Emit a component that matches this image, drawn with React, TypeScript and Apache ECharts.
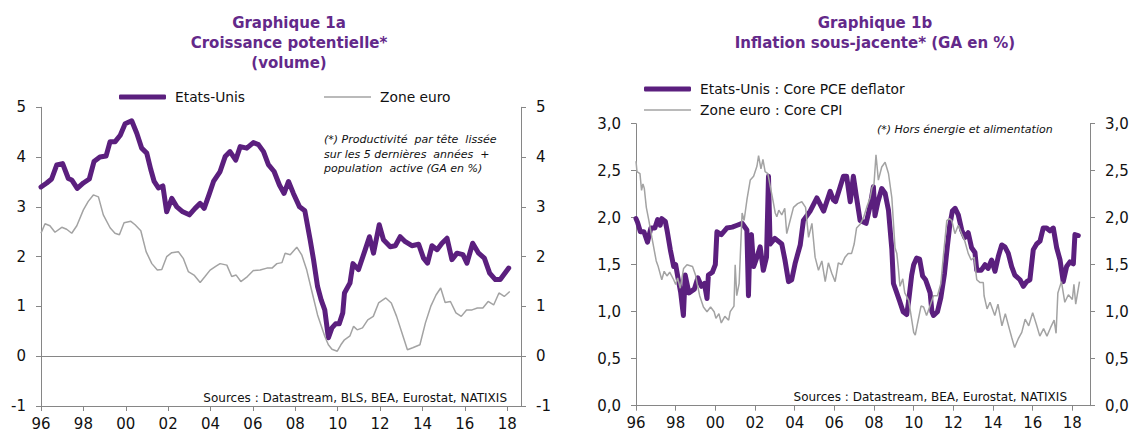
import React, { useEffect, useRef } from 'react';
import * as echarts from 'echarts';

// ---- axis ticks ----
const tickYears = [1996, 1998, 2000, 2002, 2004, 2006, 2008, 2010, 2012, 2014, 2016, 2018];
const tickLabels = ['96', '98', '00', '02', '04', '06', '08', '10', '12', '14', '16', '18'];

// ---- Graphique 1a : potential growth ----
const usPotYears = [
  1996.0, 1996.27, 1996.5, 1996.74, 1997.02, 1997.29, 1997.45, 1997.71, 1998.0, 1998.28, 1998.5, 1998.78,
  1999.07, 1999.26, 1999.5, 1999.74, 1999.97, 2000.28, 2000.52, 2000.75, 2000.99, 2001.18, 2001.34, 2001.54,
  2001.75, 2001.93, 2002.17, 2002.41, 2002.69, 2003.0, 2003.27, 2003.51, 2003.7, 2003.95, 2004.14, 2004.45,
  2004.69, 2004.92, 2005.19, 2005.4, 2005.71, 2006.02, 2006.26, 2006.5, 2006.73, 2007.0, 2007.25, 2007.47,
  2007.68, 2007.91, 2008.2, 2008.45, 2008.7, 2008.86, 2009.05, 2009.22, 2009.39, 2009.56, 2009.73, 2009.9,
  2010.07, 2010.24, 2010.32, 2010.58, 2010.72, 2010.98, 2011.3, 2011.5, 2011.69, 2011.96, 2012.16, 2012.48,
  2012.72, 2012.95, 2013.19, 2013.5, 2013.82, 2014.05, 2014.24, 2014.45, 2014.69, 2014.92, 2015.16, 2015.39,
  2015.63, 2015.91, 2016.1, 2016.37, 2016.65, 2016.92, 2017.17, 2017.44, 2017.67, 2018.07,
];
const usPotValues = [
  3.4, 3.48, 3.56, 3.84, 3.87, 3.57, 3.54, 3.37, 3.48, 3.56, 3.91, 4.0,
  4.02, 4.31, 4.31, 4.44, 4.67, 4.73, 4.48, 4.18, 4.08, 3.75, 3.51, 3.38,
  3.42, 2.9, 3.17, 3.0, 2.9, 2.84, 2.97, 3.07, 2.97, 3.27, 3.51, 3.71,
  4.01, 4.11, 3.94, 4.21, 4.18, 4.29, 4.25, 4.11, 3.85, 3.71, 3.44, 3.27,
  3.51, 3.27, 3.0, 2.92, 2.34, 1.94, 1.4, 1.13, 0.93, 0.37, 0.57, 0.65,
  0.65, 0.87, 1.27, 1.47, 1.86, 1.74, 2.14, 2.4, 2.07, 2.64, 2.34, 2.2,
  2.22, 2.4, 2.3, 2.22, 2.25, 1.97, 1.87, 2.22, 2.14, 2.27, 2.37, 1.94,
  2.07, 2.04, 1.87, 2.27, 2.07, 1.97, 1.67, 1.54, 1.54, 1.77,
];
const euPotYears = [
  1996.0, 1996.19, 1996.42, 1996.66, 1996.98, 1997.21, 1997.45, 1997.69, 1998.0, 1998.23, 1998.47, 1998.71,
  1998.94, 1999.26, 1999.49, 1999.7, 1999.92, 2000.24, 2000.44, 2000.71, 2000.96, 2001.23, 2001.49, 2001.7,
  2001.93, 2002.17, 2002.48, 2002.72, 2002.95, 2003.22, 2003.51, 2003.74, 2003.98, 2004.26, 2004.45, 2004.77,
  2005.0, 2005.21, 2005.43, 2005.74, 2006.02, 2006.34, 2006.66, 2006.9, 2007.13, 2007.37, 2007.52, 2007.76,
  2008.07, 2008.31, 2008.54, 2008.8, 2009.05, 2009.39, 2009.56, 2009.73, 2009.98, 2010.15, 2010.32, 2010.58,
  2010.75, 2010.92, 2011.17, 2011.42, 2011.68, 2011.93, 2012.27, 2012.53, 2012.78, 2013.03, 2013.29, 2013.54,
  2013.88, 2014.14, 2014.39, 2014.64, 2014.86, 2015.07, 2015.32, 2015.58, 2015.83, 2016.08, 2016.34, 2016.59,
  2016.85, 2017.1, 2017.36, 2017.61, 2017.86, 2018.12,
];
const euPotValues = [
  2.47, 2.66, 2.62, 2.49, 2.59, 2.55, 2.47, 2.62, 2.94, 3.11, 3.24, 3.2,
  2.84, 2.58, 2.47, 2.44, 2.68, 2.71, 2.64, 2.52, 2.1, 1.86, 1.73, 1.74,
  2.0, 2.08, 2.1, 1.96, 1.7, 1.63, 1.48, 1.6, 1.73, 1.81, 1.86, 1.83,
  1.6, 1.63, 1.5, 1.6, 1.72, 1.73, 1.77, 1.77, 1.86, 1.88, 2.07, 2.04,
  2.19, 2.03, 1.73, 1.27, 0.83, 0.4, 0.23, 0.14, 0.1, 0.23, 0.33, 0.41,
  0.6, 0.53, 0.57, 0.73, 0.8, 1.07, 1.17, 1.07, 0.8, 0.47, 0.13, 0.17,
  0.23, 0.67, 1.0, 1.23, 1.37, 1.08, 1.1, 0.87, 0.8, 0.93, 0.93, 0.97,
  0.97, 1.1, 1.03, 1.27, 1.2, 1.3,
];

// ---- Graphique 1b : core inflation ----
const usCoreYears = [
  1996.0, 1996.08, 1996.22, 1996.4, 1996.58, 1996.75, 1996.95, 1997.09, 1997.22, 1997.3, 1997.48, 1997.58,
  1997.73, 1997.9, 1998.0, 1998.15, 1998.25, 1998.39, 1998.48, 1998.67, 1998.94, 1999.12, 1999.3, 1999.45,
  1999.58, 1999.65, 1999.85, 2000.0, 2000.08, 2000.3, 2000.58, 2000.85, 2001.1, 2001.35, 2001.59, 2001.67,
  2001.75, 2001.82, 2001.93, 2002.1, 2002.26, 2002.42, 2002.58, 2002.68, 2002.76, 2003.0, 2003.35, 2003.51,
  2003.69, 2003.85, 2004.03, 2004.28, 2004.44, 2004.78, 2005.12, 2005.46, 2005.79, 2005.95, 2006.06, 2006.46,
  2006.62, 2006.8, 2006.96, 2007.1, 2007.3, 2007.6, 2007.8, 2007.97, 2008.05, 2008.2, 2008.39, 2008.56,
  2008.73, 2008.9, 2008.98, 2009.1, 2009.28, 2009.47, 2009.65, 2009.75, 2009.9, 2010.0, 2010.15, 2010.3,
  2010.45, 2010.6, 2010.7, 2010.83, 2010.92, 2011.0, 2011.2, 2011.37, 2011.55, 2011.7, 2011.82, 2011.95,
  2012.09, 2012.25, 2012.42, 2012.58, 2012.75, 2012.92, 2013.09, 2013.18, 2013.4, 2013.6, 2013.75, 2013.93,
  2014.1, 2014.27, 2014.44, 2014.6, 2014.77, 2014.94, 2015.1, 2015.36, 2015.53, 2015.7, 2015.86, 2016.03,
  2016.2, 2016.37, 2016.53, 2016.7, 2016.87, 2017.04, 2017.21, 2017.38, 2017.54, 2017.71, 2017.88, 2018.05,
  2018.13, 2018.3,
];
const usCoreValues = [
  1.99, 1.95, 1.85, 1.85, 1.74, 1.89, 1.89, 1.98, 1.92, 1.99, 1.96, 1.85,
  1.66, 1.48, 1.5, 1.32, 1.21, 0.96, 1.39, 1.2, 1.24, 1.36, 1.27, 1.3,
  1.14, 1.39, 1.42, 1.5, 1.85, 1.82, 1.89, 1.9, 1.92, 1.94, 1.87, 1.17,
  1.79, 1.82, 1.48, 1.58, 1.69, 1.44, 1.58, 2.44, 1.72, 1.78, 1.72, 1.55,
  1.32, 1.34, 1.52, 1.71, 1.97, 2.07, 2.21, 2.07, 2.28, 2.19, 2.17, 2.44,
  2.44, 2.17, 2.44, 2.24, 1.97, 1.94, 2.12, 2.33, 2.02, 2.17, 2.31, 2.26,
  2.08, 1.66, 1.3, 1.23, 1.12, 1.0, 0.97, 1.12, 1.39, 1.5, 1.57, 1.56,
  1.38, 1.34, 1.28, 1.2, 1.0, 0.96, 1.0, 1.15, 1.4, 1.7, 1.92, 2.07,
  2.1, 2.03, 1.87, 1.79, 1.84, 1.68, 1.63, 1.44, 1.44, 1.5, 1.46, 1.55,
  1.43, 1.59, 1.71, 1.69, 1.62, 1.48, 1.39, 1.34, 1.27, 1.32, 1.34, 1.66,
  1.72, 1.75, 1.89, 1.89, 1.86, 1.89, 1.68, 1.55, 1.32, 1.48, 1.53, 1.51,
  1.82, 1.81,
];
const euCoreYears = [
  1996.0, 1996.05, 1996.2, 1996.28, 1996.35, 1996.42, 1996.52, 1996.65, 1996.8, 1997.02, 1997.12, 1997.3,
  1997.42, 1997.56, 1997.7, 1997.9, 1998.0, 1998.1, 1998.23, 1998.4, 1998.57, 1998.85, 1999.0, 1999.21,
  1999.4, 1999.58, 1999.76, 1999.94, 2000.03, 2000.18, 2000.3, 2000.48, 2000.67, 2000.75, 2000.94, 2001.0,
  2001.08, 2001.2, 2001.35, 2001.45, 2001.6, 2001.76, 2001.93, 2002.1, 2002.18, 2002.3, 2002.4, 2002.51,
  2002.65, 2002.77, 2002.9, 2003.02, 2003.1, 2003.2, 2003.35, 2003.5, 2003.6, 2003.77, 2003.94, 2004.15,
  2004.36, 2004.55, 2004.7, 2004.87, 2005.03, 2005.2, 2005.37, 2005.54, 2005.7, 2005.87, 2006.04, 2006.2,
  2006.37, 2006.54, 2006.7, 2006.87, 2007.0, 2007.12, 2007.3, 2007.47, 2007.63, 2007.8, 2007.9, 2008.0,
  2008.1, 2008.22, 2008.39, 2008.56, 2008.73, 2008.9, 2009.06, 2009.15, 2009.22, 2009.31, 2009.45, 2009.55,
  2009.75, 2010.0, 2010.08, 2010.2, 2010.37, 2010.5, 2010.65, 2010.82, 2011.0, 2011.2, 2011.37, 2011.5,
  2011.67, 2011.8, 2011.92, 2012.08, 2012.25, 2012.42, 2012.58, 2012.75, 2012.9, 2013.05, 2013.18, 2013.35,
  2013.51, 2013.55, 2013.7, 2013.85, 2014.09, 2014.25, 2014.45, 2014.62, 2014.82, 2014.95, 2015.09, 2015.27,
  2015.45, 2015.62, 2015.8, 2016.0, 2016.18, 2016.36, 2016.55, 2016.72, 2016.9, 2017.08, 2017.18, 2017.27,
  2017.45, 2017.62, 2017.8, 2018.0, 2018.08, 2018.17, 2018.36,
];
const euCoreValues = [
  2.6, 2.49, 2.47, 2.29, 2.36, 2.31, 2.11, 1.97, 1.79, 1.54, 1.48, 1.34,
  1.43, 1.38, 1.42, 1.34, 1.29, 1.36, 1.25, 1.46, 1.5, 1.48, 1.39, 1.17,
  1.05, 1.0, 1.05, 1.0, 0.93, 0.98, 0.88, 0.95, 0.91, 1.0, 1.06, 1.5,
  1.17, 1.3, 2.05, 1.97, 2.2, 2.4, 2.44, 2.55, 2.66, 2.52, 2.62, 2.49,
  2.47, 2.33, 2.19, 2.05, 2.01, 2.08, 2.03, 2.1, 1.83, 1.97, 2.11, 2.15,
  2.17, 2.11, 1.79, 1.94, 1.58, 1.44, 1.54, 1.32, 1.52, 1.41, 1.32, 1.52,
  1.5, 1.58, 1.62, 1.62, 1.72, 1.89, 1.93, 2.0, 2.11, 2.21, 2.32, 2.36,
  2.67, 2.4, 2.54, 2.59, 2.47, 2.21, 1.68, 1.62, 1.48, 1.27, 1.35, 1.2,
  1.12, 0.78, 0.75, 0.88, 1.06, 1.05, 0.96, 1.06, 1.17, 1.17, 1.3, 1.6,
  1.97, 1.99, 1.97, 1.83, 1.92, 1.83, 1.75, 1.62, 1.55, 1.58, 1.34, 1.31,
  1.31, 1.17, 1.03, 1.1, 0.96, 1.08, 0.85, 0.98, 0.82, 0.72, 0.62, 0.71,
  0.78, 0.92, 0.85, 0.99, 0.87, 0.74, 0.82, 0.74, 0.83, 0.91, 0.77, 1.2,
  1.32, 1.1, 1.18, 1.13, 1.29, 1.08, 1.32,
];

const PURPLE = '#5B1F7E';
const TITLE_PURPLE = '#63298A';
const GRAY = '#A3A3A3';
const AXIS = '#868686';
const FONT = '"DejaVu Sans", "Liberation Sans", sans-serif';

const zip = (xs: number[], ys: number[]) => xs.map((x, i) => [x, ys[i]]);

const xAxisFor = (gridIndex: number, max: number) => ({
  type: 'value',
  gridIndex,
  min: 1996,
  max,
  axisLine: { show: true, onZero: false, lineStyle: { color: AXIS, width: 1 } },
  axisTick: { show: true, inside: false, length: 5, customValues: tickYears, lineStyle: { color: AXIS } },
  axisLabel: {
    customValues: tickYears,
    formatter: (v: number) => tickLabels[tickYears.indexOf(Math.round(v))] ?? '',
    margin: 10,
    fontSize: 15,
    fontFamily: FONT,
    color: '#111',
  },
  splitLine: { show: false },
});

const yAxisFor = (gridIndex: number, position: string, min: number, max: number, interval: number, fmt: (v: number) => string) => ({
  type: 'value',
  gridIndex,
  position,
  min,
  max,
  interval,
  axisLine: { show: true, lineStyle: { color: AXIS, width: 1 } },
  axisTick: { show: true, inside: false, length: 5, lineStyle: { color: AXIS } },
  axisLabel: { formatter: fmt, margin: 15, fontSize: 15, fontFamily: FONT, color: '#111' },
  splitLine: { show: false },
});

const intFmt = (v: number) => String(v);
const decFmt = (v: number) => v.toFixed(1).replace('.', ',');

const legendItem = (name: string, left: number, top: number, thick: boolean) => ({
  show: true,
  data: [name],
  left,
  top,
  padding: 0,
  itemWidth: 47,
  itemHeight: thick ? 5 : 1.5,
  icon: thick ? 'roundRect' : 'rect',
  selectedMode: false,
  textStyle: { fontFamily: FONT, fontSize: 13.8, color: '#111', lineHeight: 16, padding: [0, 0, 0, 4] },
});

const option = {
  animation: false,
  backgroundColor: '#ffffff',
  title: [
    {
      text: 'Graphique 1a\nCroissance potentielle*\n(volume)',
      left: 289,
      top: 12.5,
      padding: 0,
      textAlign: 'center',
      textStyle: { fontFamily: FONT, fontSize: 15, fontWeight: 'bold', color: TITLE_PURPLE, lineHeight: 20 },
    },
    {
      text: 'Graphique 1b\nInflation sous-jacente* (GA en %)',
      left: 875,
      top: 12.5,
      padding: 0,
      textAlign: 'center',
      textStyle: { fontFamily: FONT, fontSize: 15, fontWeight: 'bold', color: TITLE_PURPLE, lineHeight: 20 },
    },
    {
      text: '(*) Productivité  par tête  lissée\nsur les 5 dernières  années  +\npopulation  active (GA en %)',
      left: 324,
      top: 132.5,
      padding: 0,
      textStyle: { fontFamily: FONT, fontSize: 11, fontStyle: 'italic', fontWeight: 'normal', color: '#111', lineHeight: 14.5 },
    },
    {
      text: '(*) Hors énergie et alimentation',
      left: 877,
      top: 121.5,
      padding: 0,
      textStyle: { fontFamily: FONT, fontSize: 11, fontStyle: 'italic', fontWeight: 'normal', color: '#111', lineHeight: 15 },
    },
    {
      text: 'Sources : Datastream, BLS, BEA, Eurostat, NATIXIS',
      right: 1133 - 507,
      top: 390.5,
      padding: 0,
      textStyle: { fontFamily: FONT, fontSize: 12, fontWeight: 'normal', color: '#111', lineHeight: 15 },
    },
    {
      text: 'Sources : Datastream, BEA, Eurostat, NATIXIS',
      right: 1133 - 1067,
      top: 389.5,
      padding: 0,
      textStyle: { fontFamily: FONT, fontSize: 12, fontWeight: 'normal', color: '#111', lineHeight: 15 },
    },
  ],
  legend: [
    legendItem('Etats-Unis', 119, 89, true),
    legendItem('Zone euro', 324, 89, false),
    legendItem('Etats-Unis : Core PCE deflator', 644, 81, true),
    legendItem('Zone euro : Core CPI', 644, 102, false),
  ],
  grid: [
    { left: 41, top: 107.3, width: 480, height: 298.7, containLabel: false },
    { left: 636, top: 123.7, width: 454, height: 282, containLabel: false },
  ],
  xAxis: [xAxisFor(0, 2018.65), xAxisFor(1, 2018.89)],
  yAxis: [
    yAxisFor(0, 'left', -1, 5, 1, intFmt),
    yAxisFor(0, 'right', -1, 5, 1, intFmt),
    yAxisFor(1, 'left', 0, 3, 0.5, decFmt),
    yAxisFor(1, 'right', 0, 3, 0.5, decFmt),
  ],
  series: [
    {
      name: 'Etats-Unis',
      type: 'line',
      xAxisIndex: 0,
      yAxisIndex: 0,
      data: zip(usPotYears, usPotValues),
      symbol: 'none',
      color: PURPLE,
      lineStyle: { width: 5, color: PURPLE, join: 'round', cap: 'round' },
      z: 3,
      markLine: {
        silent: true,
        symbol: ['none', 'none'],
        label: { show: false },
        lineStyle: { color: AXIS, width: 1, type: 'solid' },
        emphasis: { disabled: true },
        data: [{ yAxis: 0 }],
      },
    },
    {
      name: 'Zone euro',
      type: 'line',
      xAxisIndex: 0,
      yAxisIndex: 0,
      data: zip(euPotYears, euPotValues),
      symbol: 'none',
      color: GRAY,
      lineStyle: { width: 1.5, color: GRAY },
      z: 4,
    },
    {
      name: 'Etats-Unis : Core PCE deflator',
      type: 'line',
      xAxisIndex: 1,
      yAxisIndex: 2,
      data: zip(usCoreYears, usCoreValues),
      symbol: 'none',
      color: PURPLE,
      lineStyle: { width: 5, color: PURPLE, join: 'round', cap: 'round' },
      z: 3,
    },
    {
      name: 'Zone euro : Core CPI',
      type: 'line',
      xAxisIndex: 1,
      yAxisIndex: 2,
      data: zip(euCoreYears, euCoreValues),
      symbol: 'none',
      color: GRAY,
      lineStyle: { width: 1.5, color: GRAY },
      z: 4,
    },
  ],
};

export default function App() {
  const ref = useRef<HTMLDivElement>(null);
  useEffect(() => {
    if (!ref.current) return;
    const chart = echarts.init(ref.current, null, { renderer: 'svg' });
    chart.setOption(option as any);
    return () => chart.dispose();
  }, []);
  return (
    <div
      ref={ref}
      style={{ position: 'fixed', left: 0, top: 0, width: 1133, height: 435, background: '#ffffff' }}
    />
  );
}
